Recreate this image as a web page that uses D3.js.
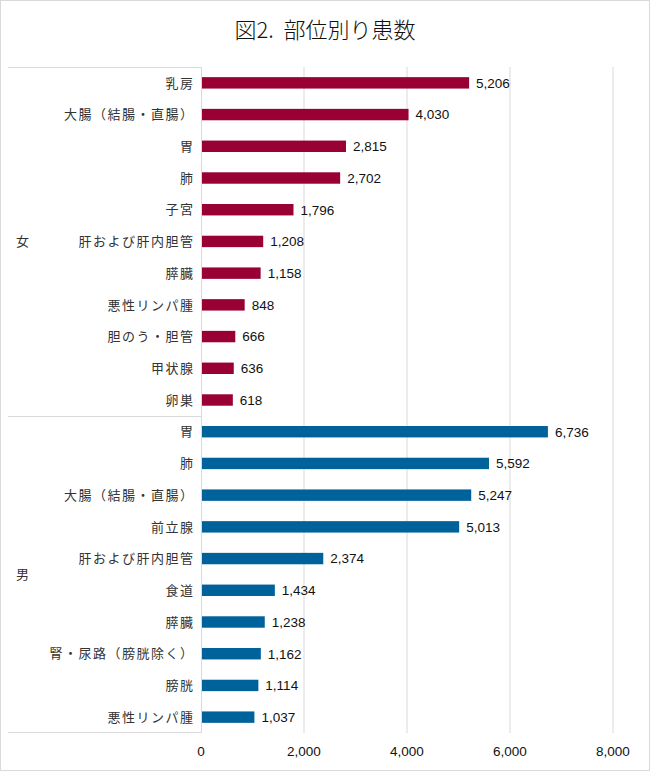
<!DOCTYPE html>
<html><head><meta charset="utf-8">
<script src="https://cdn.jsdelivr.net/npm/d3@7"></script>
<style>
body{margin:0;background:#fff;}
text{font-family:"Liberation Sans","Noto Sans CJK JP",Arial,sans-serif;}
.jp{font-family:"Noto Sans CJK JP",sans-serif;}
.title{white-space:pre;}
</style></head><body>
<svg id="c" width="650" height="771"></svg>
<script>
const title = "図2.  部位別り患数";
const femaleCategories = ["乳房","大腸（結腸・直腸）","胃","肺","子宮","肝および肝内胆管","膵臓","悪性リンパ腫","胆のう・胆管","甲状腺","卵巣"];
const femaleValues = [5206,4030,2815,2702,1796,1208,1158,848,666,636,618];
const maleCategories = ["胃","肺","大腸（結腸・直腸）","前立腺","肝および肝内胆管","食道","膵臓","腎・尿路（膀胱除く）","膀胱","悪性リンパ腫"];
const maleValues = [6736,5592,5247,5013,2374,1434,1238,1162,1114,1037];
const groups = ["女","男"];
const xTicks = [0,2000,4000,6000,8000];

(function(){
const colors = {"女":"#990033","男":"#00629B"};
const rows = [];
femaleCategories.forEach((c,i)=>rows.push({g:"女",cat:c,v:femaleValues[i],id:"f"+i}));
maleCategories.forEach((c,i)=>rows.push({g:"男",cat:c,v:maleValues[i],id:"m"+i}));

const svg = d3.select("#c");
const W=650,H=771;
svg.append("rect").attr("x",0.5).attr("y",0.5).attr("width",W-1).attr("height",H-1)
  .attr("fill","#fff").attr("stroke","#d9d9d9");

svg.append("text").attr("class","jp title").attr("x",325).attr("y",38).attr("text-anchor","middle")
  .attr("font-size",22).attr("font-weight",300).attr("fill","#111").text(title);

const pTop=67,pBottom=733,pLeft=201,pRight=613,labelLeft=8;
const x = d3.scaleLinear().domain([0,8000]).range([pLeft,pRight]);
const y = d3.scaleBand().domain(rows.map(d=>d.id)).range([pTop,pBottom]).paddingInner(0.64).paddingOuter(0.32);
const yOuter = d3.scaleBand().domain(rows.map(d=>d.id)).range([pTop,pBottom]);

svg.append("g").selectAll("line").data(xTicks.filter(t=>t>0)).join("line")
  .attr("x1",d=>x(d)).attr("x2",d=>x(d)).attr("y1",pTop).attr("y2",pBottom)
  .attr("stroke","#d9d9d9").attr("stroke-width",1);

const gl = svg.append("g").attr("stroke","#d9d9d9").attr("stroke-width",1);
gl.append("line").attr("x1",labelLeft).attr("x2",pLeft).attr("y1",pTop+0.5).attr("y2",pTop+0.5);
gl.append("line").attr("x1",labelLeft).attr("x2",pLeft).attr("y1",pBottom-0.5).attr("y2",pBottom-0.5);
const sepY = Math.round(yOuter("m0"))+0.5;
gl.append("line").attr("x1",labelLeft).attr("x2",pLeft).attr("y1",sepY).attr("y2",sepY);
gl.append("line").attr("x1",pLeft+0.5).attr("x2",pLeft+0.5).attr("y1",pTop).attr("y2",pBottom);

svg.append("g").selectAll("rect").data(rows).join("rect")
  .attr("x",x(0)+1).attr("y",d=>y(d.id)).attr("width",d=>x(d.v)-x(0)-1).attr("height",y.bandwidth())
  .attr("fill",d=>colors[d.g]);

svg.append("g").selectAll("text").data(rows).join("text")
  .attr("x",d=>x(d.v)+7).attr("y",d=>y(d.id)+y.bandwidth()/2).attr("dy","0.36em")
  .attr("font-size",13.5).attr("fill","#111").text(d=>d3.format(",")(d.v));

svg.append("g").selectAll("text").data(rows).join("text").attr("class","jp")
  .attr("x",194.5).attr("y",d=>yOuter(d.id)+yOuter.bandwidth()/2).attr("dy","0.36em")
  .attr("text-anchor","end").attr("font-size",13).attr("letter-spacing","1.5px")
  .attr("fill","#333").text(d=>d.cat);

groups.forEach(g=>{
  const ids = rows.filter(r=>r.g===g).map(r=>r.id);
  const y0 = yOuter(ids[0]), y1 = yOuter(ids[ids.length-1])+yOuter.bandwidth();
  svg.append("text").attr("class","jp").attr("x",16).attr("y",(y0+y1)/2).attr("dy","0.36em")
    .attr("font-size",13).attr("fill","#333").text(g);
});

svg.append("g").selectAll("text").data(xTicks).join("text")
  .attr("x",d=>x(d)).attr("y",751).attr("dy","0.36em").attr("text-anchor","middle")
  .attr("font-size",13.5).attr("fill","#111").text(d=>d3.format(",")(d));
})();
</script></body></html>
